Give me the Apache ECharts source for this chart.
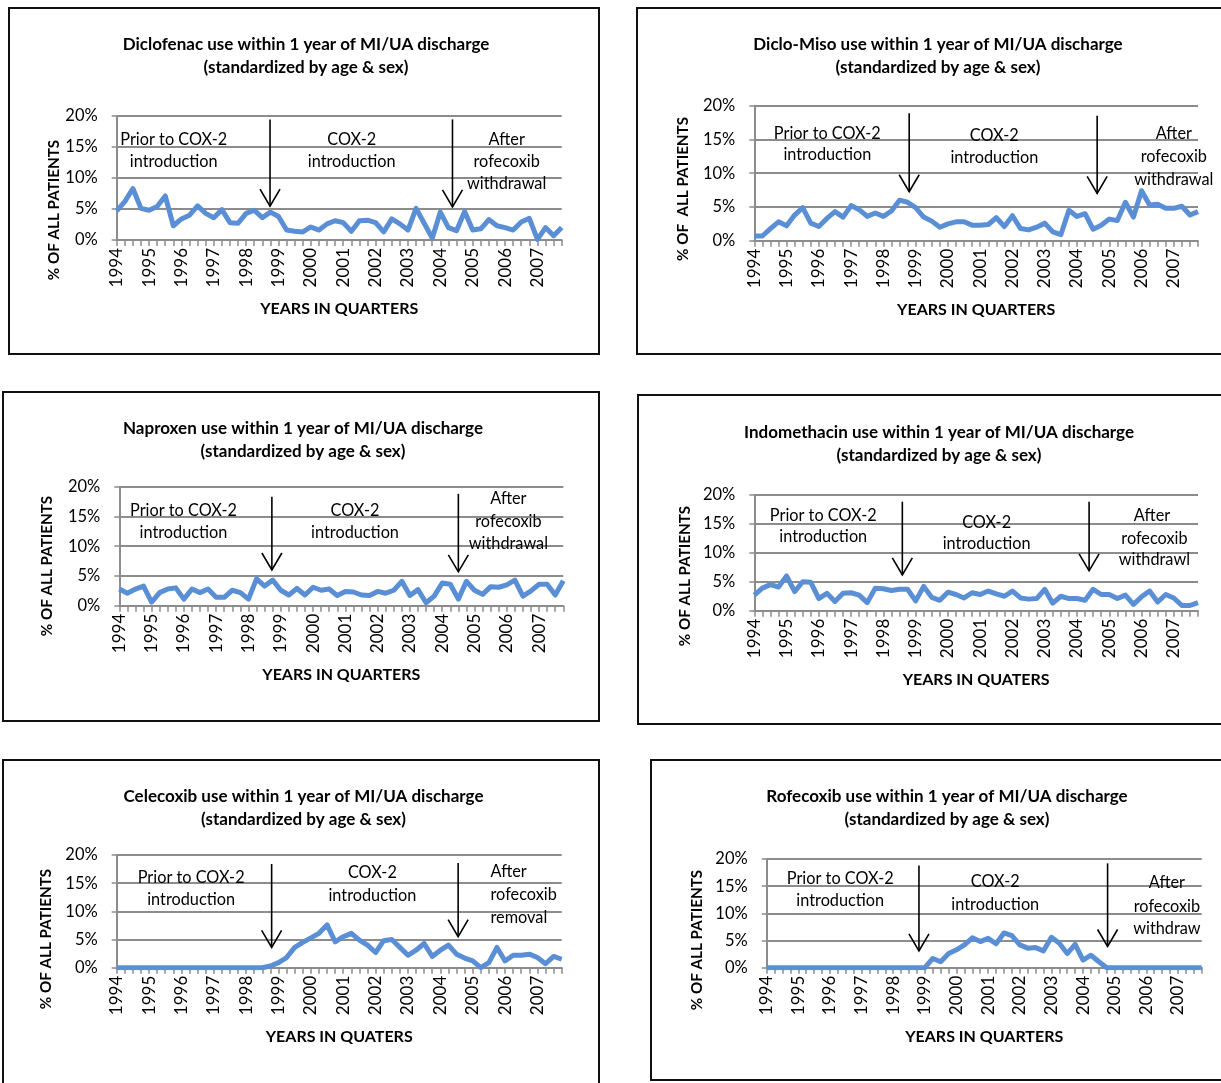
<!DOCTYPE html>
<html>
<head>
<meta charset="utf-8">
<title>NSAID use within 1 year of MI/UA discharge</title>
<script src="https://cdn.jsdelivr.net/npm/echarts@6/dist/echarts.min.js"></script>
<style>
  html, body { margin: 0; padding: 0; background: #fff; overflow: hidden; width: 1221px; height: 1083px; }
  .panel { position: absolute; box-sizing: border-box; border: 2px solid #111; background: #fff; }
</style>
</head>
<body>
<script>
// quarters 1994 Q1 .. 2007 Q4
const years = [1994, 1995, 1996, 1997, 1998, 1999, 2000, 2001, 2002, 2003, 2004, 2005, 2006, 2007];
const quarters = [];
years.forEach(y => ['Q1', 'Q2', 'Q3', 'Q4'].forEach(q => quarters.push(y + ' ' + q)));

// % of all patients
const diclofenac = [4.7, 6.2, 8.3, 5.1, 4.8, 5.4, 7.1, 2.3, 3.4, 4.0, 5.5, 4.3, 3.6, 4.9, 2.8, 2.7, 4.3, 4.8, 3.6, 4.5,
  3.8, 1.6, 1.4, 1.3, 2.1, 1.6, 2.6, 3.1, 2.8, 1.4, 3.1, 3.2, 2.8, 1.3, 3.4, 2.6, 1.6, 5.1, 2.7, 0.3,
  4.5, 2.0, 1.5, 4.6, 1.6, 1.8, 3.3, 2.3, 2.0, 1.6, 2.9, 3.5, 0.1, 2.0, 0.7, 2.0];
const dicloMiso = [0.7, 0.7, 1.8, 2.8, 2.2, 3.8, 4.9, 2.6, 2.1, 3.3, 4.3, 3.5, 5.2, 4.6, 3.6, 4.1, 3.6, 4.4, 6.0, 5.7,
  4.9, 3.5, 2.9, 2.0, 2.5, 2.8, 2.8, 2.3, 2.3, 2.4, 3.4, 2.1, 3.7, 1.8, 1.6, 2.0, 2.6, 1.3, 0.9, 4.5,
  3.6, 4.0, 1.7, 2.3, 3.2, 3.0, 5.7, 3.5, 7.4, 5.3, 5.4, 4.8, 4.8, 5.1, 3.8, 4.3];
const naproxen = [2.8, 2.1, 2.8, 3.3, 0.6, 2.2, 2.8, 3.0, 1.1, 2.8, 2.2, 2.8, 1.4, 1.4, 2.6, 2.2, 1.1, 4.5, 3.3, 4.3,
  2.6, 1.8, 2.9, 1.8, 3.1, 2.6, 2.8, 1.7, 2.4, 2.3, 1.8, 1.7, 2.4, 2.1, 2.6, 4.1, 1.7, 2.7, 0.5, 1.6,
  3.8, 3.6, 1.1, 4.1, 2.6, 1.9, 3.2, 3.1, 3.5, 4.3, 1.6, 2.5, 3.6, 3.6, 1.8, 4.2];
const indomethacin = [2.7, 3.9, 4.5, 4.1, 6.0, 3.3, 5.0, 4.9, 2.1, 3.0, 1.6, 3.0, 3.1, 2.7, 1.4, 3.9, 3.8, 3.5, 3.7, 3.7,
  1.7, 4.2, 2.3, 1.8, 3.2, 2.8, 2.2, 3.1, 2.8, 3.4, 2.9, 2.5, 3.4, 2.2, 2.0, 2.1, 3.7, 1.3, 2.5, 2.1,
  2.1, 1.8, 3.7, 2.8, 2.8, 2.1, 2.7, 1.1, 2.4, 3.4, 1.5, 2.8, 2.2, 0.9, 0.9, 1.4];
const celecoxib = [0, 0, 0, 0, 0, 0, 0, 0, 0, 0, 0, 0, 0, 0, 0, 0, 0, 0, 0, 0.3,
  0.9, 1.8, 3.6, 4.5, 5.3, 6.1, 7.6, 4.6, 5.5, 6.1, 4.9, 4.0, 2.7, 4.8, 5.0, 3.6, 2.2, 3.1, 4.3, 2.0,
  3.1, 4.0, 2.4, 1.7, 1.2, 0.0, 0.9, 3.6, 1.2, 2.2, 2.2, 2.4, 1.8, 0.7, 2.0, 1.5];
const rofecoxib = [0, 0, 0, 0, 0, 0, 0, 0, 0, 0, 0, 0, 0, 0, 0, 0, 0, 0, 0, 0,
  0, 1.7, 1.1, 2.6, 3.3, 4.2, 5.5, 4.8, 5.4, 4.4, 6.4, 5.9, 4.2, 3.6, 3.7, 3.1, 5.6, 4.5, 2.6, 4.3,
  1.4, 2.3, 1.1, 0.0, 0, 0, 0, 0, 0, 0, 0, 0, 0, 0, 0, 0];

// arrows: [quarter index, top %, tip %]
const diclofenacArrows = [[18.95, 19.45, 5.45], [41.5, 19.45, 5.35]];
const dicloMisoArrows = [[19.2, 18.9, 7.25], [42.5, 18.5, 7.0]];
const naproxenArrows = [[18.9, 18.3, 6.0], [42.0, 18.8, 5.7]];
const indomethacinArrows = [[18.35, 18.85, 6.2], [41.5, 18.85, 6.9]];
const celecoxibArrows = [[19.15, 18.4, 3.6], [42.2, 18.6, 5.5]];
const rofecoxibArrows = [[19.25, 18.8, 3.1], [43.1, 19.2, 3.9]];

// period notes: [quarter index, %, text, align]
const diclofenacNotes = [[7.05, 16.2, 'Prior to COX-2'], [7.05, 12.6, 'introduction'], [29.05, 16.2, 'COX-2'],
  [29.05, 12.6, 'introduction'], [48.2, 16.2, 'After'], [48.2, 12.6, 'rofecoxib'], [48.2, 9.0, 'withdrawal']];
const dicloMisoNotes = [[9.05, 15.9, 'Prior to COX-2'], [9.05, 12.7, 'introduction'], [29.75, 15.6, 'COX-2'],
  [29.75, 12.35, 'introduction'], [52.0, 15.9, 'After'], [52.0, 12.4, 'rofecoxib'], [52.0, 9.1, 'withdrawal']];
const naproxenNotes = [[7.95, 16.0, 'Prior to COX-2'], [7.95, 12.2, 'introduction'], [29.2, 16.0, 'COX-2'],
  [29.2, 12.2, 'introduction'], [48.2, 18.0, 'After'], [48.2, 14.1, 'rofecoxib'], [48.2, 10.4, 'withdrawal']];
const indomethacinNotes = [[8.55, 16.5, 'Prior to COX-2'], [8.55, 12.8, 'introduction'], [28.8, 15.2, 'COX-2'],
  [28.8, 11.5, 'introduction'], [49.3, 16.5, 'After'], [49.6, 12.5, 'rofecoxib'], [49.6, 8.8, 'withdrawl']];
const celecoxibNotes = [[9.2, 16.0, 'Prior to COX-2'], [9.2, 12.0, 'introduction'], [31.6, 16.9, 'COX-2'],
  [31.6, 12.7, 'introduction'], [46.2, 17.0, 'After', 'left'], [46.2, 12.9, 'rofecoxib', 'left'], [46.2, 8.9, 'removal', 'left']];
const rofecoxibNotes = [[9.3, 16.3, 'Prior to COX-2'], [9.3, 12.3, 'introduction'], [28.9, 15.8, 'COX-2'],
  [28.9, 11.65, 'introduction'], [50.6, 15.7, 'After'], [50.6, 11.2, 'rofecoxib'], [50.6, 7.2, 'withdraw']];

const SUB = '\n(standardized by age & sex)';
const FONT = 'Lato, "Open Sans", sans-serif';
const LINE = '#5A8FD5';
const GRAY = '#8C8C8C';
const BORDER = 2;

// page layout in px: box [x, y, w, h], plot [left, top, right, bottom], title centre, y-name centre
const panels = [
  { drug: 'Diclofenac', values: diclofenac, arrows: diclofenacArrows, notes: diclofenacNotes,
    xName: 'YEARS IN QUARTERS', yName: '% OF ALL PATIENTS',
    box: [8, 7, 592, 348], plot: [116.7, 116, 561.7, 240], title: [301, 39.3], yPos: [54, 210] },
  { drug: 'Diclo-Miso', values: dicloMiso, arrows: dicloMisoArrows, notes: dicloMisoNotes,
    xName: 'YEARS IN QUARTERS', yName: '% OF  ALL PATIENTS',
    box: [636, 7, 600, 348], plot: [754.3, 105.7, 1198, 240.7], title: [933, 39.3], yPos: [683, 189] },
  { drug: 'Naproxen', values: naproxen, arrows: naproxenArrows, notes: naproxenNotes,
    xName: 'YEARS IN QUARTERS', yName: '% OF ALL PATIENTS',
    box: [2, 391, 598, 331], plot: [119.3, 486.7, 563.3, 605.7], title: [298, 423.3], yPos: [47, 566] },
  { drug: 'Indomethacin', values: indomethacin, arrows: indomethacinArrows, notes: indomethacinNotes,
    xName: 'YEARS IN QUATERS', yName: '% OF ALL PATIENTS',
    box: [637, 394, 600, 331], plot: [754.3, 495, 1198, 610.7], title: [934, 427.3], yPos: [685, 576] },
  { drug: 'Celecoxib', values: celecoxib, arrows: celecoxibArrows, notes: celecoxibNotes,
    xName: 'YEARS IN QUATERS', yName: '% OF ALL PATIENTS',
    box: [2, 759, 598, 340], plot: [116.7, 855, 561.7, 967.7], title: [298.5, 791.7], yPos: [46, 939] },
  { drug: 'Rofecoxib', values: rofecoxib, arrows: rofecoxibArrows, notes: rofecoxibNotes,
    xName: 'YEARS IN QUARTERS', yName: '% OF ALL PATIENTS',
    box: [650, 759, 600, 322], plot: [766.7, 859, 1201.7, 967.7], title: [942, 791.7], yPos: [697, 940] },
];

function buildOption(p) {
  const ox = p.box[0] + BORDER, oy = p.box[1] + BORDER;
  const [l, t, r, b] = p.plot;
  const notes = p.notes;
  return {
    animation: false,
    title: {
      text: p.drug + ' use within 1 year of MI/UA discharge' + SUB,
      left: p.title[0] - ox, top: p.title[1] - 11.5 - oy, textAlign: 'center',
      textStyle: { fontFamily: FONT, fontWeight: 'bold', fontSize: 17, lineHeight: 23, color: '#000' }
    },
    grid: { left: l - ox, top: t - oy, width: r - l, height: b - t },
    xAxis: [{
      type: 'category', data: quarters, boundaryGap: false,
      name: p.xName, nameLocation: 'middle', nameGap: 61,
      nameTextStyle: { fontFamily: FONT, fontWeight: 'bold', fontSize: 16, color: '#000' },
      axisLine: { lineStyle: { color: GRAY, width: 2 } },
      axisTick: { show: true, interval: 0, length: 6, lineStyle: { color: GRAY, width: 1.5 } },
      axisLabel: { interval: 3, rotate: 90, margin: 8, formatter: v => v.slice(0, 4),
        fontFamily: FONT, fontSize: 17, color: '#000' },
      splitLine: { show: false }
    }, {
      type: 'value', min: 0, max: quarters.length - 1, show: false
    }],
    yAxis: {
      type: 'value', min: 0, max: 20, interval: 5,
      axisLine: { show: true, lineStyle: { color: GRAY, width: 2 } },
      axisTick: { show: true, length: 5, lineStyle: { color: GRAY, width: 1.5 } },
      axisLabel: { formatter: '{value}%', margin: 19, fontFamily: FONT, fontSize: 16.5, color: '#000' },
      splitLine: { lineStyle: { color: GRAY, width: 2 } }
    },
    graphic: [{
      type: 'text', x: p.yPos[0] - ox, y: p.yPos[1] - oy, rotation: Math.PI / 2,
      style: { text: p.yName, fontFamily: FONT, fontWeight: 'bold', fontSize: 15.2, fill: '#000',
        align: 'center', verticalAlign: 'middle', textAlign: 'center', textVerticalAlign: 'middle' }
    }],
    series: [{
      type: 'line', xAxisIndex: 0, yAxisIndex: 0, data: p.values,
      showSymbol: false, symbol: 'none', z: 3,
      lineStyle: { color: LINE, width: 5, join: 'round' }
    }, {
      type: 'custom', xAxisIndex: 1, yAxisIndex: 0, silent: true, clip: false, z: 5,
      data: p.arrows,
      renderItem: (params, api) => {
        const top = api.coord([api.value(0), api.value(1)]);
        const tip = api.coord([api.value(0), api.value(2)]);
        const st = { stroke: '#000', lineWidth: 1.6, fill: null };
        return {
          type: 'group', children: [
            { type: 'line', shape: { x1: top[0], y1: top[1], x2: tip[0], y2: tip[1] }, style: st },
            { type: 'polyline', shape: { points: [[tip[0] - 10, tip[1] - 17], [tip[0], tip[1]], [tip[0] + 10, tip[1] - 17]] }, style: st }
          ]
        };
      }
    }, {
      type: 'custom', xAxisIndex: 1, yAxisIndex: 0, silent: true, clip: false, z: 4,
      data: notes.map(n => [n[0], n[1]]),
      renderItem: (params, api) => {
        const n = notes[params.dataIndex];
        const pt = api.coord([api.value(0), api.value(1)]);
        return {
          type: 'text', x: pt[0], y: pt[1],
          style: { text: n[2], fontFamily: FONT, fontSize: 16.3, fill: '#000',
            align: n[3] || 'center', verticalAlign: 'middle' }
        };
      }
    }]
  };
}

panels.forEach(p => {
  const el = document.createElement('div');
  el.className = 'panel';
  el.style.left = p.box[0] + 'px';
  el.style.top = p.box[1] + 'px';
  el.style.width = p.box[2] + 'px';
  el.style.height = p.box[3] + 'px';
  document.body.appendChild(el);
  const chart = echarts.init(el, null, { renderer: 'canvas' });
  chart.setOption(buildOption(p));
});
</script>
</body>
</html>
